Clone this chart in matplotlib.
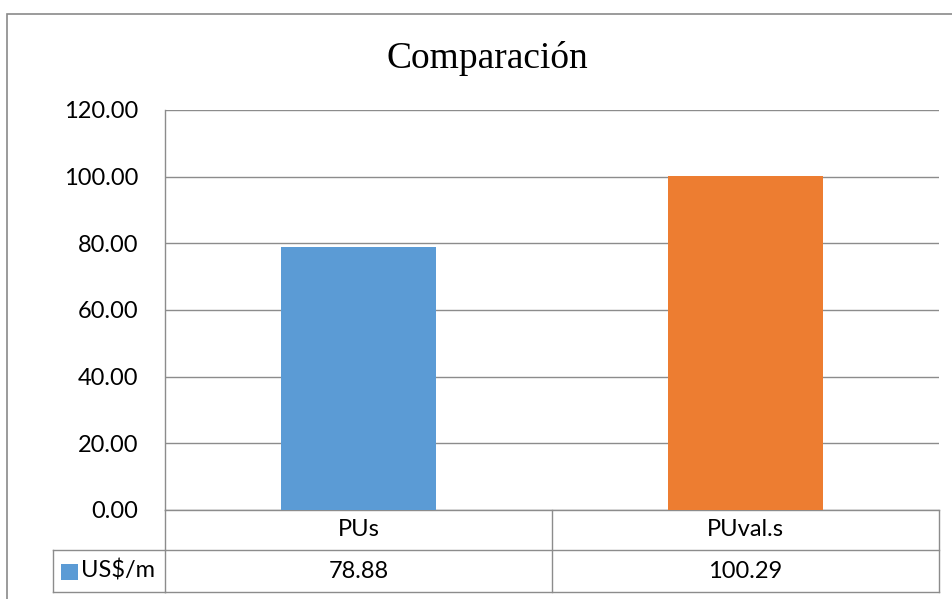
import matplotlib
matplotlib.use("Agg")
import matplotlib.pyplot as plt
from matplotlib.patches import Rectangle
from matplotlib.lines import Line2D
from matplotlib.transforms import blended_transform_factory

# Data
categories = ["PUs", "PUval.s"]
values = [78.88, 100.29]
value_labels = ["78.88", "100.29"]
series_name = "US$/m"
bar_colors = ["#5B9BD5", "#ED7D31"]
yticks = [0, 20, 40, 60, 80, 100, 120]

W, H = 953, 599
DPI = 100
GRID = "#8C8C8C"
LABEL_FONT = ["Lato", "DejaVu Sans"]
LABEL_SIZE = 17

fig = plt.figure(figsize=(W / DPI, H / DPI), dpi=DPI)
fig.patch.set_facecolor("white")


def px(x, y):
    """Pixel position (from top-left) to figure fraction."""
    return x / W, 1 - y / H


# Plot area in pixels
left, top, right, bottom = 165, 110, 939, 510
ax = fig.add_axes([left / W, 1 - bottom / H, (right - left) / W, (bottom - top) / H])

x = list(range(len(categories)))
ax.bar(x, values, width=0.4, color=bar_colors, zorder=3)
ax.set_xlim(-0.5, len(categories) - 0.5)
ax.set_ylim(0, 120)
ax.set_yticks(yticks)
ax.set_yticklabels([f"{v:.2f}" for v in yticks], family=LABEL_FONT, fontsize=LABEL_SIZE)
ax.tick_params(axis="y", length=0, pad=19)
ax.set_xticks([])
ax.grid(axis="y", color=GRID, linewidth=1.0, zorder=0)
for side in ["top", "right"]:
    ax.spines[side].set_visible(False)
for side in ["left", "bottom"]:
    ax.spines[side].set_color(GRID)
    ax.spines[side].set_linewidth(1.0)

# Data table below the plot area
tr = blended_transform_factory(ax.transData, ax.transAxes)
row_h = 40 / (bottom - top)
val_h = 42 / (bottom - top)
y0, y1, y2 = 0.0, -row_h, -row_h - val_h
x_edges = [-0.5 + i for i in range(len(categories) + 1)]
legend_left = (53 - left) / (right - left)
tr_ax = ax.transAxes

line_kw = dict(color=GRID, linewidth=1.0, clip_on=False)
# horizontal lines
ax.add_line(Line2D([x_edges[0], x_edges[-1]], [y1, y1], transform=tr, **line_kw))
ax.add_line(Line2D([x_edges[0], x_edges[-1]], [y2, y2], transform=tr, **line_kw))
ax.add_line(Line2D([legend_left, 0], [y1, y1], transform=tr_ax, **line_kw))
ax.add_line(Line2D([legend_left, 0], [y2, y2], transform=tr_ax, **line_kw))
# vertical lines
ax.add_line(Line2D([legend_left, legend_left], [y1, y2], transform=tr_ax, **line_kw))
for xe in x_edges:
    ax.add_line(Line2D([xe, xe], [y0, y2], transform=tr, **line_kw))

for xi, cat, lab in zip(x, categories, value_labels):
    ax.text(xi, (y0 + y1) / 2, cat, transform=tr, ha="center", va="center",
            family=LABEL_FONT, fontsize=LABEL_SIZE)
    ax.text(xi, (y1 + y2) / 2, lab, transform=tr, ha="center", va="center",
            family=LABEL_FONT, fontsize=LABEL_SIZE)

# legend key inside the table
kx0, ky0 = px(61, 580)
kx1, ky1 = px(78, 564)
fig.patches.append(Rectangle((kx0, ky0), kx1 - kx0, ky1 - ky0, transform=fig.transFigure,
                             facecolor=bar_colors[0], edgecolor="none"))
tx, ty = px(81, 571)
fig.text(tx, ty, series_name, ha="left", va="center", family=LABEL_FONT, fontsize=LABEL_SIZE)

# Title
tx, ty = px(487, 58)
fig.text(tx, ty, "Comparación", ha="center", va="center",
         family=["Liberation Serif", "DejaVu Serif"], fontsize=27)

# Chart area border
bx, by = px(7, 640)
bx1, by1 = px(1000, 13.5)
fig.patches.append(Rectangle((bx, by), bx1 - bx, by1 - by, transform=fig.transFigure,
                             facecolor="none", edgecolor="#8A8A8A", linewidth=1.2))

fig.savefig("out.png", dpi=DPI)
